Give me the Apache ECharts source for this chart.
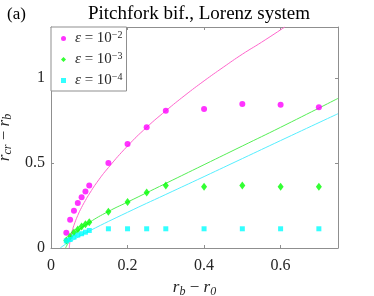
<!DOCTYPE html>
<html><head><meta charset="utf-8">
<script src="https://cdn.jsdelivr.net/npm/echarts@6/dist/echarts.min.js"></script>
<style>html,body{margin:0;padding:0;background:#fff}#c{width:374px;height:296px}</style>
</head><body><div id="c"></div>
<script>
// sampled x positions (r_b - r_0)
const xPts = [0.04,0.05,0.06,0.07,0.08,0.09,0.1,0.15,0.2,0.25,0.3,0.4,0.5,0.6,0.7];
const yEps2 = [0.09,0.166,0.219,0.264,0.299,0.333,0.367,0.5,0.612,0.71,0.807,0.818,0.847,0.842,0.828];
const yEps3 = [0.044,0.068,0.091,0.109,0.127,0.139,0.152,0.213,0.27,0.327,0.367,0.361,0.367,0.361,0.361];
const yEps4 = [0.042,0.05,0.064,0.076,0.084,0.093,0.103,0.113,0.113,0.113,0.113,0.113,0.113,0.113,0.113];
// fitted curves
const xFit2 = [0.048,0.05,0.055,0.06,0.07,0.08,0.09,0.1,0.12,0.15,0.2,0.25,0.3,0.35,0.4,0.45,0.5,0.55,0.611];
const yFit2 = [0,0.045,0.097,0.134,0.192,0.239,0.28,0.318,0.386,0.473,0.6,0.71,0.807,0.898,0.983,1.063,1.14,1.21,1.3];
const xFit3 = [0.038,0.045,0.05,0.07,0.1,0.15,0.2,0.3,0.4,0.5,0.6,0.75];
const yFit3 = [0,0.03,0.05,0.1,0.15,0.215,0.27,0.38,0.49,0.6,0.71,0.88];
const xFit4 = [0.024,0.04,0.06,0.1,0.2,0.3,0.4,0.5,0.6,0.75];
const yFit4 = [0,0.025,0.05,0.1,0.21,0.315,0.42,0.526,0.632,0.79];
const xTicks = [0,0.2,0.4,0.6];
const yTicks = [0,0.5,1];
const seriesNames = ['eps2','eps3','eps4'];
const exps = {eps2:'−2', eps3:'−3', eps4:'−4'};

const zip = (xs, ys) => xs.map((x,i)=>[x, ys[i]]);
const serif = 'Liberation Serif';
const axisCol = '#8f8f8f';
const txtCol = '#262626';

const chart = echarts.init(document.getElementById('c'), null, {renderer:'canvas'});
const baseX = {type:'value', min:0, max:0.75,
  axisLine:{show:true, onZero:false, lineStyle:{color:axisCol, width:1}},
  axisTick:{show:true, inside:true, length:3, customValues:xTicks, lineStyle:{color:axisCol}},
  splitLine:{show:false}};
const baseY = {type:'value', min:0, max:1.3,
  axisLine:{show:true, onZero:false, lineStyle:{color:axisCol, width:1}},
  axisTick:{show:true, inside:true, length:3, customValues:yTicks, lineStyle:{color:axisCol}},
  splitLine:{show:false}};

chart.setOption({
  animation:false,
  backgroundColor:'#fff',
  title:[
    {text:'Pitchfork bif., Lorenz system', left:194, top:0, textAlign:'center',
     textStyle:{fontFamily:serif, fontSize:19, fontWeight:'normal', color:'#000'}},
    {text:'(a)', left:2, top:1, textStyle:{fontFamily:serif, fontSize:17, fontWeight:'normal', color:'#000'}}
  ],
  grid:{left:51, right:36, top:27, bottom:48, containLabel:false, outerBoundsMode:'none'},
  xAxis:[
    Object.assign({}, baseX, {position:'bottom',
      axisLabel:{show:true, margin:10, customValues:xTicks, hideOverlap:false,
        fontFamily:serif, fontSize:16, color:txtCol},
      name:'{i|r}{s|b} − {i|r}{s|0}', nameLocation:'middle', nameGap:29,
      nameTextStyle:{fontFamily:serif, fontSize:17, color:txtCol,
        rich:{i:{fontFamily:serif, fontStyle:'italic', fontSize:17, color:txtCol},
              s:{fontFamily:serif, fontStyle:'italic', fontSize:12, color:txtCol, verticalAlign:'bottom', padding:[8,0,0,0]}}}}),
    Object.assign({}, baseX, {position:'top', axisLabel:{show:false}})
  ],
  yAxis:[
    Object.assign({}, baseY, {position:'left',
      axisLabel:{show:true, margin:6, customValues:yTicks, hideOverlap:false,
        fontFamily:serif, fontSize:16, color:txtCol},
      name:'{i|r}{s|cr} − {i|r}{s|b}', nameLocation:'middle', nameGap:26, nameRotate:90,
      nameTextStyle:{fontFamily:serif, fontSize:17, color:txtCol,
        rich:{i:{fontFamily:serif, fontStyle:'italic', fontSize:17, color:txtCol},
              s:{fontFamily:serif, fontStyle:'italic', fontSize:12, color:txtCol, verticalAlign:'bottom', padding:[8,0,0,0]}}}}),
    Object.assign({}, baseY, {position:'right', axisLabel:{show:false}})
  ],
  legend:{
    data:[{name:'eps2', icon:'circle'},{name:'eps3', icon:'diamond'},{name:'eps4', icon:'rect'}],
    orient:'vertical', left:51, top:27, itemGap:5, itemWidth:5, itemHeight:5,
    padding:[3,4,3,10], borderColor:axisCol, borderWidth:1, backgroundColor:'#fff', borderRadius:0,
    formatter: n => '{e|ε} = 10{p|' + exps[n] + '}',
    textStyle:{fontFamily:serif, fontSize:15, color:txtCol, padding:[0,0,0,4],
      rich:{e:{fontFamily:serif, fontStyle:'italic', fontSize:15, color:txtCol},
            p:{fontFamily:serif, fontSize:10, color:txtCol, verticalAlign:'top', padding:[0,0,7,0]}}}
  },
  series:[
    {type:'line', data:zip(xFit2,yFit2), showSymbol:false, symbol:'none', smooth:true, lineStyle:{color:'#ff66cc', width:1}, z:1, silent:true},
    {type:'line', data:zip(xFit3,yFit3), showSymbol:false, symbol:'none', smooth:true, lineStyle:{color:'#55ee55', width:1}, z:1, silent:true},
    {type:'line', data:zip(xFit4,yFit4), showSymbol:false, symbol:'none', smooth:true, lineStyle:{color:'#55eeff', width:1}, z:1, silent:true},
    {name:seriesNames[0], type:'scatter', data:zip(xPts,yEps2), symbol:'circle', symbolSize:6, itemStyle:{color:'#ff00ff'}, z:3},
    {name:seriesNames[1], type:'scatter', data:zip(xPts,yEps3), symbol:'diamond', symbolSize:[6,8], itemStyle:{color:'#00ff00'}, z:3},
    {name:seriesNames[2], type:'scatter', data:zip(xPts,yEps4), symbol:'rect', symbolSize:5, itemStyle:{color:'#00ffff'}, z:3}
  ]
});
</script></body></html>
